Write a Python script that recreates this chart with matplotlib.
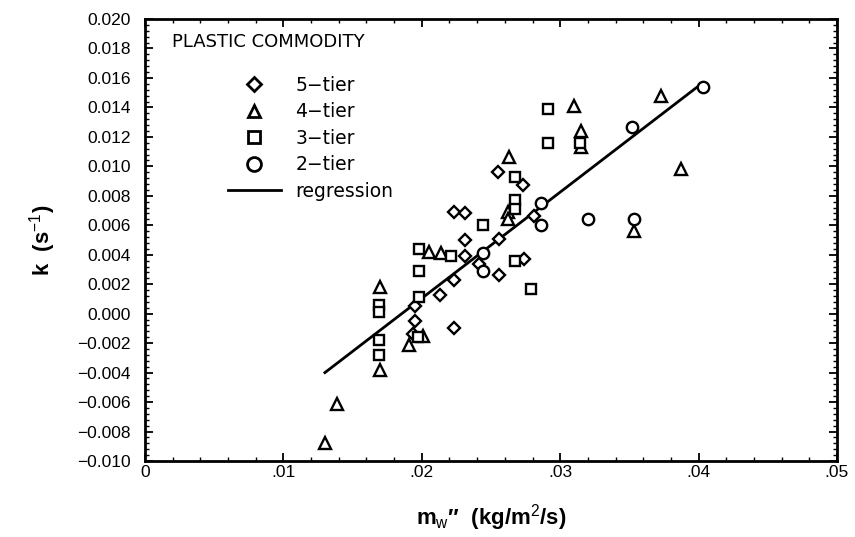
import matplotlib
matplotlib.use("Agg")
import matplotlib.pyplot as plt
from matplotlib.ticker import MultipleLocator, FuncFormatter
from matplotlib.lines import Line2D

# 5-tier (diamonds)
tier5_x = [0.0223, 0.0231, 0.0255, 0.0273, 0.0281, 0.0231, 0.0256, 0.0231, 0.0241,
           0.0256, 0.0274, 0.0223, 0.0213, 0.0195, 0.0195, 0.0223, 0.0194]
tier5_k = [0.0069, 0.0068, 0.0096, 0.0087, 0.0066, 0.0050, 0.0051, 0.0039, 0.0034,
           0.0026, 0.0037, 0.0023, 0.0013, 0.0005, -0.0005, -0.0010, -0.0014]

# 4-tier (triangles)
tier4_x = [0.0130, 0.0139, 0.0170, 0.0170, 0.0191, 0.0201, 0.0205, 0.0214, 0.0262,
           0.0262, 0.0263, 0.0310, 0.0315, 0.0315, 0.0373, 0.0387, 0.0353]
tier4_k = [-0.0088, -0.0061, 0.0018, -0.0038, -0.0021, -0.0015, 0.0042, 0.0041, 0.0069,
           0.0064, 0.0106, 0.0141, 0.0124, 0.0113, 0.0148, 0.0098, 0.0056]

# 3-tier (squares)
tier3_x = [0.0169, 0.0169, 0.0169, 0.0169, 0.0198, 0.0198, 0.0198, 0.0197, 0.0221,
           0.0244, 0.0267, 0.0267, 0.0267, 0.0267, 0.0279, 0.0291, 0.0291, 0.0314]
tier3_k = [0.0006, 0.0001, -0.0018, -0.0028, 0.0044, 0.0029, 0.0011, -0.0016, 0.0039,
           0.0060, 0.0093, 0.0077, 0.0071, 0.0036, 0.0017, 0.0139, 0.0116, 0.0116]

# 2-tier (circles)
tier2_x = [0.0244, 0.0244, 0.0286, 0.0286, 0.0320, 0.0353, 0.0352, 0.0403]
tier2_k = [0.0041, 0.0029, 0.0075, 0.0060, 0.0064, 0.0064, 0.0127, 0.0154]

# regression line endpoints
reg_x = [0.0130, 0.0402]
reg_k = [-0.0040, 0.0156]

x_ticks = [0.0, 0.01, 0.02, 0.03, 0.04, 0.05]
x_ticklabels = ["0", ".01", ".02", ".03", ".04", ".05"]

plt.rcParams['font.family'] = ['Liberation Sans', 'DejaVu Sans']
plt.rcParams['mathtext.fontset'] = 'custom'
plt.rcParams['mathtext.rm'] = 'Liberation Sans'
plt.rcParams['mathtext.it'] = 'Liberation Sans'
plt.rcParams['mathtext.bf'] = 'Liberation Sans:bold'

fig = plt.figure(figsize=(8.55, 5.37), dpi=100)
ax = fig.add_axes([145/855, 76/537, 692/855, 442/537])

mk = dict(mfc='white', mec='black', mew=1.7, ls='none', zorder=3)
ax.plot(tier5_x, tier5_k, marker='D', ms=5.8, **mk)
ax.plot(tier4_x, tier4_k, marker='^', ms=8, **mk)
ax.plot(tier3_x, tier3_k, marker='s', ms=7.2, **mk)
ax.plot(tier2_x, tier2_k, marker='o', ms=8.2, **mk)
ax.plot(reg_x, reg_k, color='black', lw=2, zorder=2)

ax.set_xlim(0, 0.05)
ax.set_ylim(-0.010, 0.020)
ax.set_xticks(x_ticks)
ax.set_xticklabels(x_ticklabels)
ax.xaxis.set_minor_locator(MultipleLocator(0.002))
ax.yaxis.set_major_locator(MultipleLocator(0.002))
ax.yaxis.set_minor_locator(MultipleLocator(0.0004))
ax.yaxis.set_major_formatter(FuncFormatter(lambda v, p: ("%.3f" % v).replace('-', '\u2212') if abs(v) > 1e-12 else "0.000"))

ax.tick_params(which='both', direction='in', top=True, right=True, labelsize=12.5, colors='black')
ax.tick_params(which='major', length=6, width=1.3)
ax.tick_params(which='minor', length=3, width=1.0)
ax.tick_params(axis='y', which='major', pad=10)
ax.tick_params(axis='x', which='major', pad=3)
for s in ax.spines.values():
    s.set_linewidth(2)

ax.set_ylabel("k  (s$^{-1}$)", fontsize=16, fontweight='bold', labelpad=14)
ax.set_xlabel("m$_w$\u2033  (kg/m$^2$/s)", fontsize=16, fontweight='bold', labelpad=16)

ax.text(0.039, 0.948, "PLASTIC COMMODITY", transform=ax.transAxes, fontsize=13,
        family='DejaVu Sans', ha='left', va='center')

handles = [
    Line2D([], [], marker='D', ms=7, mfc='white', mec='black', mew=2, ls='none'),
    Line2D([], [], marker='^', ms=9, mfc='white', mec='black', mew=2, ls='none'),
    Line2D([], [], marker='s', ms=9, mfc='white', mec='black', mew=2, ls='none'),
    Line2D([], [], marker='o', ms=10, mfc='white', mec='black', mew=2, ls='none'),
    Line2D([], [], color='black', lw=2),
]
labels = ["5\u2212tier", "4\u2212tier", "3\u2212tier", "2\u2212tier", "regression"]
leg = ax.legend(handles, labels, loc='upper left', bbox_to_anchor=(0.12, 0.872),
                frameon=False, prop={'family': 'DejaVu Sans', 'size': 13.5},
                handlelength=2.8, handletextpad=0.8,
                labelspacing=0.4, borderaxespad=0, borderpad=0)

fig.savefig("out.png", dpi=100)
